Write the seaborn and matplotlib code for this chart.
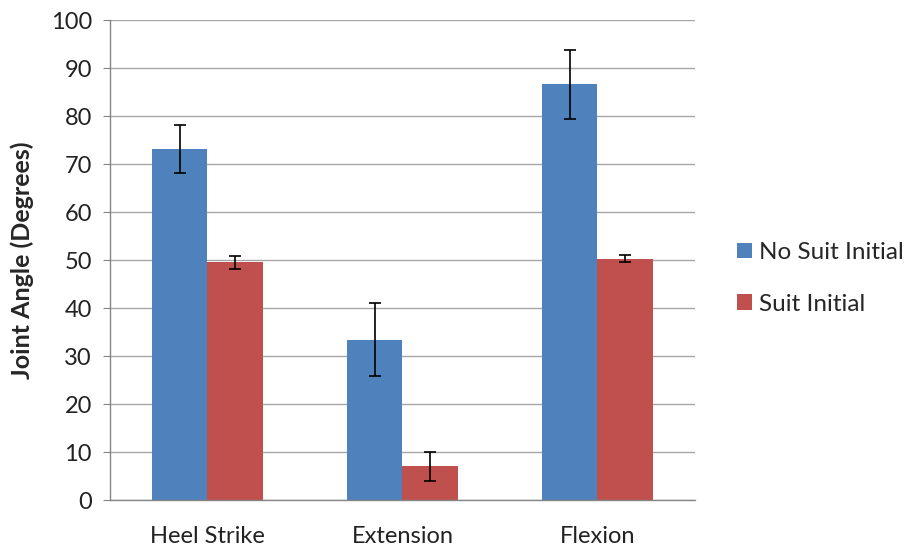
import matplotlib
matplotlib.use("Agg")
import matplotlib.pyplot as plt
import numpy as np
import pandas as pd
import seaborn as sns
from matplotlib.ticker import FixedLocator, MultipleLocator

phases = ["Heel Strike", "Extension", "Flexion"]
conditions = ["No Suit Initial", "Suit Initial"]
no_suit_mean = [73.1, 33.4, 86.6]
no_suit_err = [5.0, 7.6, 7.1]
suit_mean = [49.6, 7.0, 50.3]
suit_err = [1.35, 3.05, 0.75]
colors = ["#4F81BD", "#C0504D"]

df = pd.DataFrame({
    "phase": phases * 2,
    "condition": [conditions[0]] * 3 + [conditions[1]] * 3,
    "angle": no_suit_mean + suit_mean,
    "err": no_suit_err + suit_err,
})

sns.set_style("white")
plt.rcParams["font.family"] = ["Lato", "DejaVu Sans"]

fig = plt.figure(figsize=(9.06, 5.46), dpi=100)
ax = fig.add_axes([0.1214, 0.0842, 0.6456, 0.8788])

sns.barplot(data=df, x="phase", y="angle", hue="condition", order=phases,
            hue_order=conditions, palette=colors, width=0.566, errorbar=None,
            saturation=1, edgecolor="none", ax=ax)

# error bars at the centres of the bars seaborn drew
errs = [no_suit_err, suit_err]
for container, err in zip(ax.containers, errs):
    xs = [b.get_x() + b.get_width() / 2 for b in container]
    ys = [b.get_height() for b in container]
    ax.errorbar(xs, ys, yerr=err, fmt="none", ecolor="black", elinewidth=1.2,
                capsize=4.5, capthick=1.2, zorder=5)

ax.set_ylim(0, 100)
ax.set_xlim(-0.5, 2.5)
ax.yaxis.set_major_locator(MultipleLocator(10))
ax.grid(axis="y", color="#A6A6A6", linewidth=1)
ax.set_axisbelow(True)
for side in ["top", "right"]:
    ax.spines[side].set_visible(False)
for side in ["left", "bottom"]:
    ax.spines[side].set_color("#868686")
    ax.spines[side].set_linewidth(1)

ax.xaxis.set_minor_locator(FixedLocator([-0.5, 0.5, 1.5, 2.5]))
ax.tick_params(axis="x", which="major", length=0, pad=19, labelsize=17, labelcolor="#222222")
ax.tick_params(axis="x", which="minor", length=5, color="#868686", direction="out", width=1)
ax.tick_params(axis="y", length=5, color="#868686", direction="out", pad=8, labelsize=17,
               labelcolor="#222222", left=True)

ax.set_xlabel("")
ax.set_ylabel("Joint Angle (Degrees)", fontsize=18, fontweight="bold", labelpad=12)

handles, labels = ax.get_legend_handles_labels()
ax.legend(handles, labels, loc="center left", bbox_to_anchor=(1.035, 0.462), frameon=False,
          fontsize=17.5, handlelength=0.6, handleheight=0.6, handletextpad=0.3, labelspacing=1.25)

fig.savefig("out.png", dpi=100)
